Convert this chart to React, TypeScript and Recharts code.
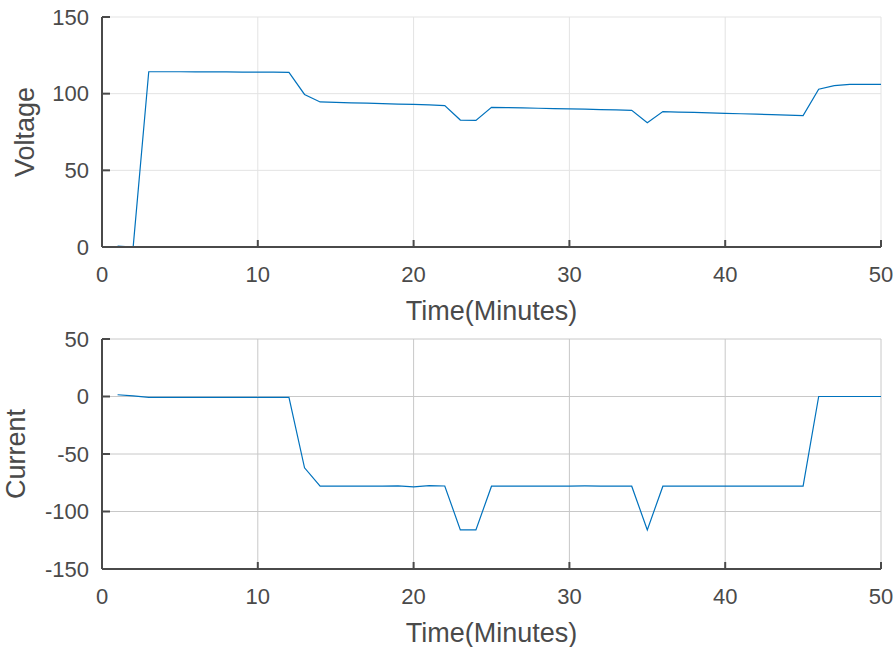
import { LineChart, Line, XAxis, YAxis, CartesianGrid, Label } from 'recharts'

const minutes = [
  1, 2, 3, 4, 5, 6, 7, 8, 9, 10, 11, 12, 13, 14, 15, 16, 17, 18, 19, 20, 21, 22, 23, 24, 25,
  26, 27, 28, 29, 30, 31, 32, 33, 34, 35, 36, 37, 38, 39, 40, 41, 42, 43, 44, 45, 46, 47, 48, 49, 50,
]

const voltage = [
  0.6, 0, 114.3, 114.3, 114.3, 114.2, 114.2, 114.2, 114.1, 114.1, 114.0, 113.9, 99.5, 94.6, 94.3,
  94.0, 93.8, 93.5, 93.2, 93.0, 92.7, 92.2, 82.8, 82.6, 91.1, 90.9, 90.7, 90.5, 90.3, 90.1, 89.9,
  89.6, 89.4, 89.1, 81.1, 88.3, 88.0, 87.8, 87.5, 87.2, 86.9, 86.6, 86.3, 86.0, 85.7, 102.9, 105.2,
  106.0, 106.1, 106.1,
]

const current = [
  1.5, 0.5, -0.8, -0.8, -0.8, -0.8, -0.8, -0.8, -0.8, -0.7, -0.7, -0.8, -62, -78, -78, -78, -78,
  -78, -77.8, -78.6, -77.5, -77.8, -116, -116, -78, -78, -78, -78, -78, -77.9, -77.8, -77.9, -78,
  -78, -116, -78, -78, -78, -78, -78, -78, -78, -78, -78, -78, 0, 0, 0, 0, 0,
]

const xTicks = [0, 10, 20, 30, 40, 50]
const voltageTicks = [0, 50, 100, 150]
const currentTicks = [-150, -100, -50, 0, 50]

const data = minutes.map((m, i) => ({ t: m, voltage: voltage[i], current: current[i] }))

const FONT = '"Liberation Sans", Arial, sans-serif'
const AXIS = '#4a4a4a'
const tickStyle = { fontSize: 22, fill: AXIS, fontFamily: FONT }

function xLabel(text: string) {
  return ({ viewBox }: any) => (
    <text
      x={viewBox.x + viewBox.width / 2}
      y={viewBox.y + 73}
      textAnchor="middle"
      fontSize={27}
      fill={AXIS}
      fontFamily={FONT}
    >
      {text}
    </text>
  )
}

function yLabel(text: string, cx: number) {
  return ({ viewBox }: any) => {
    const cy = viewBox.y + viewBox.height / 2
    return (
      <text
        x={cx}
        y={cy}
        dy="0.35em"
        textAnchor="middle"
        fontSize={27}
        fill={AXIS}
        fontFamily={FONT}
        transform={`rotate(-90, ${cx}, ${cy})`}
      >
        {text}
      </text>
    )
  }
}

function Panel(props: {
  dataKey: string
  domain: [number, number]
  ticks: number[]
  top: number
  height: number
  bottom: number
  grid: string
  title: string
  titleX: number
}) {
  return (
    <div style={{ position: 'absolute', left: 0, top: props.top }}>
      <LineChart
        width={896}
        height={props.height}
        data={data}
        margin={{ top: 17, right: 15, bottom: 0, left: 0 }}
      >
        <CartesianGrid stroke={props.grid} strokeWidth={1} />
        <XAxis
          dataKey="t"
          type="number"
          domain={[0, 50]}
          ticks={xTicks}
          height={props.bottom}
          stroke={AXIS}
          strokeWidth={2}
          tickSize={-7}
          tickMargin={26}
          tick={tickStyle}
          interval={0}
        >
          <Label content={xLabel('Time(Minutes)')} />
        </XAxis>
        <YAxis
          type="number"
          domain={props.domain}
          ticks={props.ticks}
          width={102}
          stroke={AXIS}
          strokeWidth={2}
          tickSize={-8}
          tickMargin={21}
          tick={tickStyle}
          interval={0}
        >
          <Label content={yLabel(props.title, props.titleX)} />
        </YAxis>
        <Line
          dataKey={props.dataKey}
          type="linear"
          stroke="#0072BD"
          strokeWidth={1.2}
          dot={false}
          isAnimationActive={false}
        />
      </LineChart>
    </div>
  )
}

export default function App() {
  return (
    <div
      style={{
        position: 'fixed',
        left: 0,
        top: 0,
        width: 896,
        height: 647,
        overflow: 'hidden',
        background: '#fff',
      }}
    >
      <Panel
        dataKey="voltage"
        domain={[0, 150]}
        ticks={voltageTicks}
        top={0}
        height={332}
        bottom={85}
        grid="#e3e3e3"
        title="Voltage"
        titleX={25}
      />
      <Panel
        dataKey="current"
        domain={[-150, 50]}
        ticks={currentTicks}
        top={322}
        height={325}
        bottom={78}
        grid="#c8c8c8"
        title="Current"
        titleX={16}
      />
    </div>
  )
}
